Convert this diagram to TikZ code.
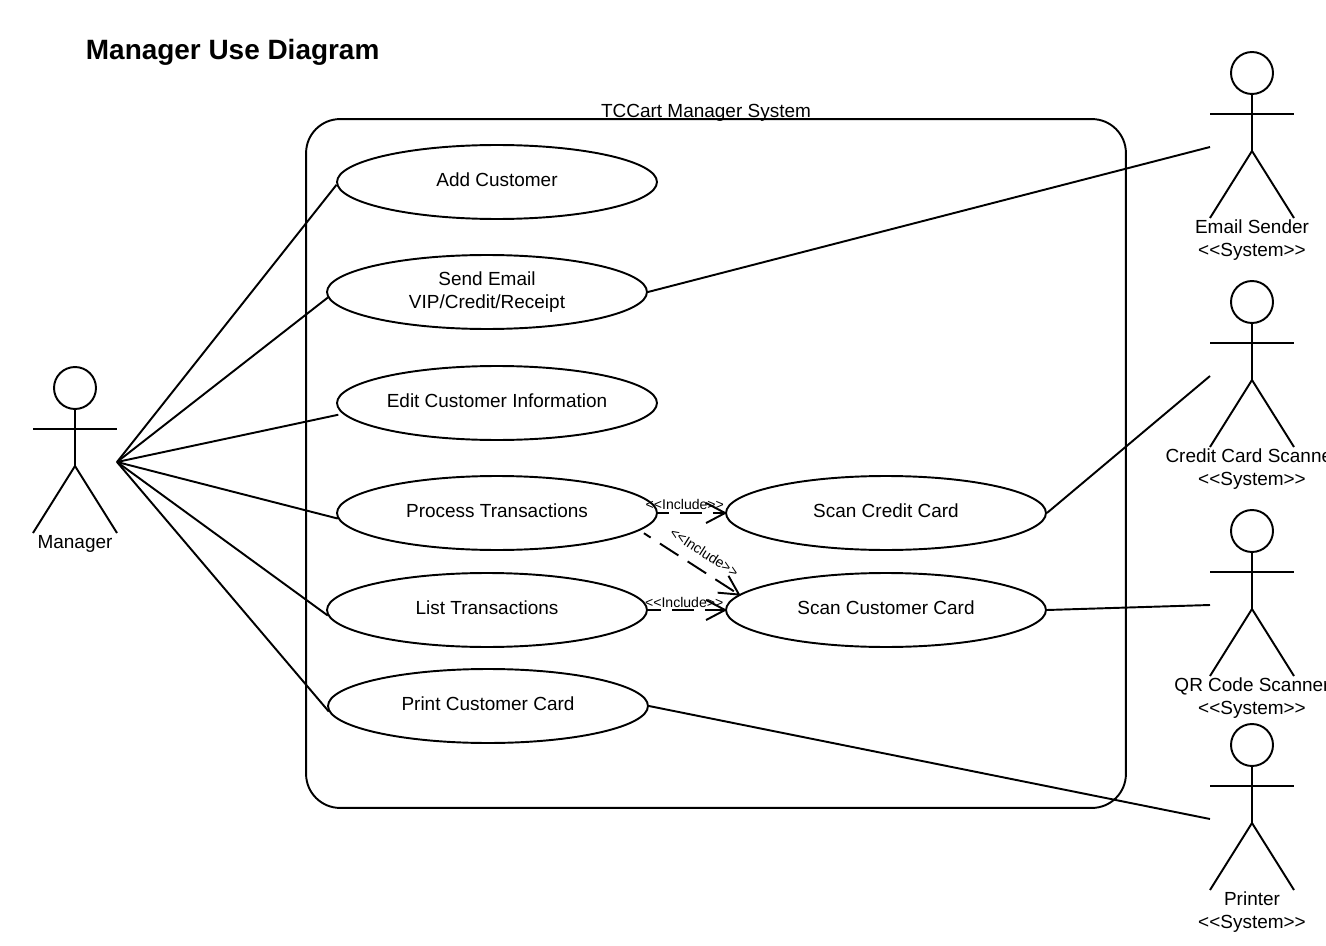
\documentclass[tikz,border=0pt]{standalone}
\usepackage{fontspec}
\setmainfont{Liberation Sans}
\usetikzlibrary{shapes.geometric}
\usetikzlibrary{arrows.meta}
\pgfdeclarearrow{
    name=OpenVee,
    parameters={\the\pgfarrowlinewidth},
    setup code={\pgfarrowssettipend{0pt}\pgfarrowssetlineend{-0.5pt}\pgfarrowssetvisualbackend{-10.8pt}\pgfarrowssetbackend{-10.8pt}\pgfarrowlinewidth=\pgflinewidth},
    drawing code={\pgfsetdash{}{0pt}\pgfpathmoveto{\pgfqpoint{-10.8pt}{5.7pt}}\pgfpathlineto{\pgfqpoint{0pt}{0pt}}\pgfpathlineto{\pgfqpoint{-10.8pt}{-5.7pt}}\pgfusepathqstroke}
}
\tikzset{usecase/.style={draw, ellipse, line width=1.1pt, minimum width=6.4cm, minimum height=1.48cm, inner sep=0pt, align=center, text depth=2.3pt, font=\fontsize{10.8}{13}\selectfont}}
\tikzset{include/.style={line width=1.1pt, dash pattern=on 0.44cm off 0.22cm, dash phase=0.22cm, -{OpenVee}}}
\tikzset{includelabel/.style={font=\fontsize{8}{9}\selectfont, inner sep=1pt}}
\tikzset{actorlabel/.style={align=center, anchor=north, inner sep=0pt, font=\fontsize{10.8}{13}\selectfont}}

\begin{document}
\begin{tikzpicture}[x=0.02cm, y=-0.02cm, line width=1.1pt]
    \useasboundingbox (0, 0) rectangle (1326, 946);
    \node[anchor=west, inner sep=0pt, font=\fontsize{15.9}{20}\selectfont\bfseries] (title) at (85, 52) {Manager Use Diagram};
    \node[draw, rounded corners=0.68cm, line width=1.1pt, minimum width=16.4cm, minimum height=13.78cm, inner sep=0pt] (system) at (716, 463.5) {};
    \node[inner sep=0pt, font=\fontsize{10.8}{13}\selectfont] (systemname) at (706, 113) {TCCart Manager System};
    \node[usecase] (add) at (497, 182) {Add Customer};
    \node[usecase] (email) at (487, 292) {Send Email\\VIP/Credit/Receipt};
    \node[usecase] (edit) at (497, 403) {Edit Customer Information};
    \node[usecase] (process) at (497, 513) {Process Transactions};
    \node[usecase] (list) at (487, 610) {List Transactions};
    \node[usecase] (print) at (488, 706) {Print Customer Card};
    \node[usecase] (credit) at (886, 513) {Scan Credit Card};
    \node[usecase] (customer) at (886, 610) {Scan Customer Card};
    % actors: name / x / top of head / label
    \foreach \who/\ax/\ay/\txt in {manager/75/367/{Manager}, sender/1252/52/{Email Sender\\<{}<System>{}>}, scanner/1252/281/{Credit Card Scanner\\<{}<System>{}>}, qrcode/1252/510/{QR Code Scanner\\<{}<System>{}>}, printer/1252/724/{Printer\\<{}<System>{}>}} {
        \node[draw, circle, minimum size=0.84cm, inner sep=0pt, line width=1.1pt] (\who) at (\ax, \ay + 21) {};
        \coordinate (\who-l) at (\ax - 42, \ay + 95);
        \coordinate (\who-r) at (\ax + 42, \ay + 95);
        \draw (\who.south) -- (\ax, \ay + 99) -- (\ax - 42, \ay + 166);
        \draw (\ax, \ay + 99) -- (\ax + 42, \ay + 166);
        \draw (\ax - 42, \ay + 62) -- (\ax + 42, \ay + 62);
        \node[actorlabel] (\who-label) at (\ax, \ay + 167) {\txt};
    }
    \draw (manager-r) -- (add.181.5);
    \draw (manager-r) -- (email.182);
    \draw[shorten >=0.09cm] (manager-r) -- (edit.184.5);
    \draw (manager-r) -- (process.182.5);
    \draw (manager-r) -- (list.182);
    \draw (manager-r) -- (print.182.4);
    \draw (email.east) -- (sender-l);
    \draw (credit.east) -- (scanner-l);
    \draw (customer.east) -- (qrcode-l);
    \draw (print.east) -- (printer-l);
    \draw[include] (process.east) -- node[includelabel, pos=0.4, above=0.5pt] (label1) {<{}<Include>{}>} (credit.west);
    \draw[include, dash phase=0.28cm, shorten <=0.1cm] (process.-7.4) -- node[includelabel, pos=0.56, sloped, above=5pt] (label2) {<{}<Include>{}>} (customer.174.2);
    \draw[include, dash phase=0.18cm] (list.east) -- node[includelabel, pos=0.47, above=0pt] (label3) {<{}<Include>{}>} (customer.west);
\end{tikzpicture}
\end{document}
